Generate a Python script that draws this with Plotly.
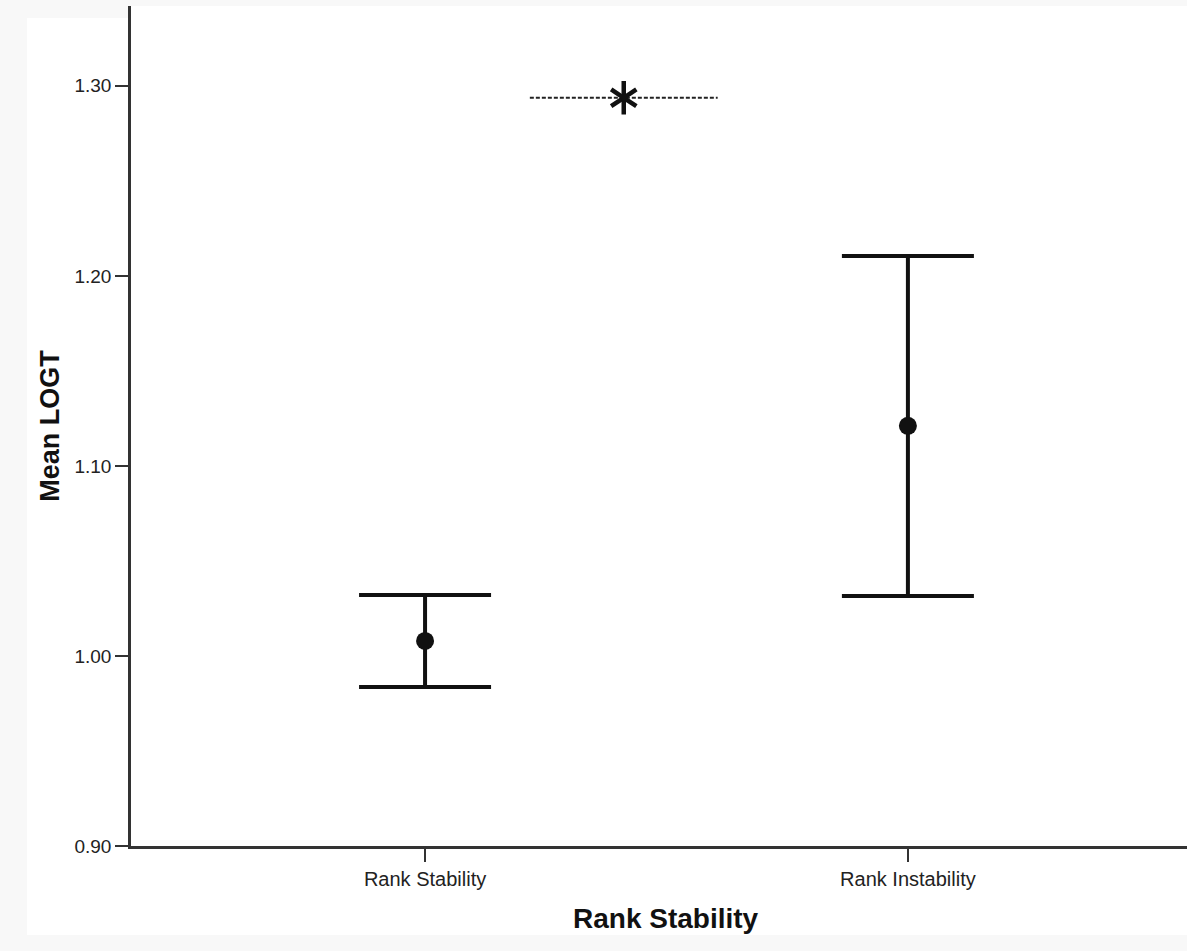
import plotly.graph_objects as go

# Group means of LOGT with the ends of their error bars
categories = ["Rank Stability", "Rank Instability"]
means = [1.0079, 1.1211]
upper = [1.0321, 1.2105]
lower = [0.9837, 1.0316]

# Significance bracket between the two groups
sig_x = [0.217, 0.606]
sig_y = [1.2937, 1.2937]

y_ticks = [0.90, 1.00, 1.10, 1.20, 1.30]

x_pos = list(range(len(categories)))
err_plus = [u - m for u, m in zip(upper, means)]
err_minus = [m - l for m, l in zip(means, lower)]
sig_mid = sum(sig_x) / 2

FONT = "Liberation Sans, Arial, sans-serif"
INK = "#111111"
AXIS = "#333333"

fig = go.Figure()

fig.add_trace(go.Scatter(
    x=x_pos, y=means, mode="markers",
    marker=dict(size=18, color=INK, symbol="circle"),
    error_y=dict(type="data", array=err_plus, arrayminus=err_minus,
                 symmetric=False, color=INK, thickness=4, width=66),
    showlegend=False, hoverinfo="y",
))

fig.add_trace(go.Scatter(
    x=sig_x, y=sig_y, mode="lines",
    line=dict(color="#222222", width=2, dash="4px,2px"),
    showlegend=False, hoverinfo="skip",
))

# six-armed significance asterisk built from two opposed "Y" symbols
for sym in ("y-up-open", "y-down-open"):
    fig.add_trace(go.Scatter(
        x=[sig_mid], y=[sig_y[0]], mode="markers",
        marker=dict(symbol=sym, size=21, color=INK,
                    line=dict(color=INK, width=4.5)),
        showlegend=False, hoverinfo="skip",
    ))

# light frame around the chart area
fig.add_shape(type="rect", xref="paper", yref="paper",
              x0=-0.0985, x1=1.01, y0=-0.106, y1=0.9857,
              fillcolor="white", line=dict(width=0), layer="below")

fig.add_annotation(
    x=0.507, y=-0.086, xref="paper", yref="paper",
    text="<b>Rank Stability</b>", showarrow=False,
    font=dict(family=FONT, size=28, color=INK),
    xanchor="center", yanchor="middle",
)
fig.add_annotation(
    x=-0.077, y=0.5, xref="paper", yref="paper",
    text="<b>Mean LOGT</b>", showarrow=False, textangle=-90,
    font=dict(family=FONT, size=27, color=INK),
    xanchor="center", yanchor="middle",
)

fig.update_xaxes(
    range=[-0.609, 1.578], tickvals=x_pos, ticktext=categories,
    showgrid=False, zeroline=False, showline=True, linecolor=AXIS, linewidth=2.5,
    ticks="outside", ticklen=13, tickwidth=2, tickcolor=AXIS,
    tickfont=dict(family=FONT, size=20, color="#222222"),
)
fig.update_yaxes(
    range=[0.9, 1.342], tickvals=y_ticks, ticktext=[f"{v:.2f}" for v in y_ticks],
    showgrid=False, zeroline=False, showline=True, linecolor=AXIS, linewidth=2.5,
    ticks="outside", ticklen=13, tickwidth=2, tickcolor=AXIS,
    tickfont=dict(family=FONT, size=19, color="#222222"),
)

fig.update_layout(
    width=1187, height=951,
    margin=dict(l=131, r=0, t=6, b=105),
    paper_bgcolor="#f8f8f8", plot_bgcolor="white",
)

fig.write_html("out.html")
